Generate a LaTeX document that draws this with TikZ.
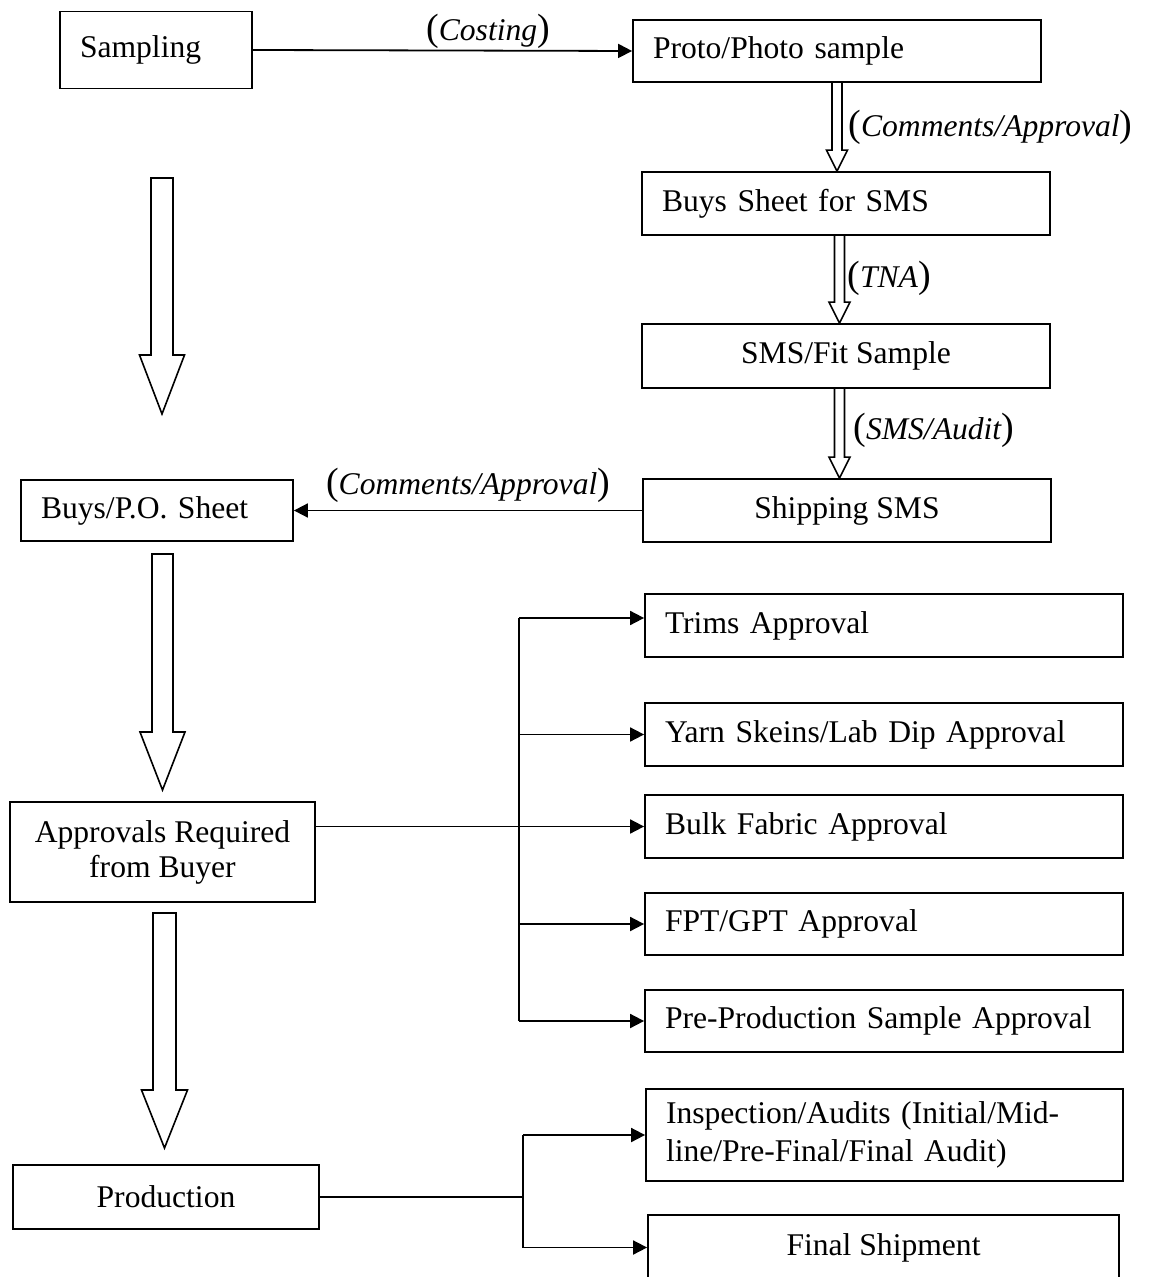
\documentclass[tikz,border=0pt]{standalone}
\usepackage{fontspec}
\setmainfont{Liberation Serif}
\usetikzlibrary{arrows.meta,calc}

% italic label in slightly enlarged upright parentheses
\newcommand\parlabel[1]{{\fontsize{19}{19}\selectfont(}\textit{#1}{\fontsize{19}{19}\selectfont)}}

% hollow block arrow linking the bottom of one node to the top of the next
\newcommand\hollowlink[3]{%
  \draw[hollow] let \p1=(#3,0), \p2=(#1.south), \p3=(#2.north) in
    (\x1-2.5pt,\y2) -- (\x1-2.5pt,\y3+10.5pt) -- (\x1-5.25pt,\y3+10.5pt) -- (\x1,\y3)
    -- (\x1+5.25pt,\y3+10.5pt) -- (\x1+2.5pt,\y3+10.5pt) -- (\x1+2.5pt,\y2);}

% large free-standing hollow arrow: centre x, top y, tip y, half shaft, half head, head length
\newcommand\bigdown[6]{%
  \draw[hollow] (#1-#4,#2) -- (#1-#4,#3-#6) -- (#1-#5,#3-#6) -- (#1,#3)
    -- (#1+#5,#3-#6) -- (#1+#4,#3-#6) -- (#1+#4,#2) -- cycle;}

\tikzset{
  box/.style={draw, rectangle, inner sep=0pt, line width=0.9pt},
  lbox/.style={box, align=left},
  cbox/.style={box, align=center},
  link/.style={line width=0.9pt, -{Triangle[length=7pt,width=7pt]}},
  rail/.style={line width=0.9pt},
  hollow/.style={line width=0.8pt, line join=miter},
  lbl/.style={inner sep=0pt}
}

\begin{document}
\begin{tikzpicture}[x=0.5pt,y=-0.5pt,font=\fontsize{15.8}{18}\selectfont]
\useasboundingbox (0,0) rectangle (1155,1277);
\clip (0,0) rectangle (1155,1277);

% left column
\node[lbox, minimum width=96pt, minimum height=38.5pt, text width=76pt] (samp) at (156,50) {Sampling};
\node[lbox, minimum width=136pt, minimum height=30.5pt, text width=116pt] (bpo) at (157,510.5) {Buys/P.O. Sheet};
\node[cbox, minimum width=152.5pt, minimum height=50pt, font=\fontsize{15.8}{17.5}\selectfont] (appr) at (162.5,852) {Approvals Required\\from Buyer};
\node[cbox, minimum width=153pt, minimum height=32pt] (prod) at (166,1197) {Production};

% sample development column
\node[lbox, minimum width=204pt, minimum height=31pt, text width=184pt] (proto) at (837,51) {Proto/Photo sample};
\node[lbox, minimum width=204pt, minimum height=31.5pt, text width=184pt] (buyss) at (846,203.5) {Buys Sheet for SMS};
\node[cbox, minimum width=204pt, minimum height=32pt] (fit) at (846,356) {SMS/Fit Sample};
\node[cbox, minimum width=204pt, minimum height=31.5pt] (ship) at (847,510.5) {Shipping SMS};

% buyer approvals
\node[lbox, minimum width=239pt, minimum height=31.5pt, text width=219pt] (trims) at (884,625.5) {Trims Approval};
\node[lbox, minimum width=239pt, minimum height=31.5pt, text width=219pt] (yarn) at (884,734.5) {Yarn Skeins/Lab Dip Approval};
\node[lbox, minimum width=239pt, minimum height=31.5pt, text width=219pt] (bulk) at (884,826.5) {Bulk Fabric Approval};
\node[lbox, minimum width=239pt, minimum height=31pt, text width=219pt] (fpt) at (884,924) {FPT/GPT Approval};
\node[lbox, minimum width=239pt, minimum height=31pt, text width=219pt] (pre) at (884,1021) {Pre-Production Sample Approval};

% production follow-up
\node[lbox, minimum width=238.5pt, minimum height=46pt, text width=218.5pt, font=\fontsize{15.8}{19}\selectfont] (insp) at (884.5,1135) {Inspection/Audits (Initial/Mid-\\line/Pre-Final/Final Audit)};
\node[cbox, minimum width=235.5pt, minimum height=32.5pt] (fin) at (883.5,1247.5) {Final Shipment};

% sampling to proto sample
\draw[link] (samp.east) -- (proto.west);
\node[lbl] (costing) at (488,31) {\parlabel{Costing}};

% development chain
\hollowlink{proto}{buyss}{837}
\node[lbl, anchor=west] (cmt1) at (848,127) {\parlabel{Comments/Approval}};
\hollowlink{buyss}{fit}{839.5}
\node[lbl, anchor=west] (tna) at (847,278) {\parlabel{TNA}};
\hollowlink{fit}{ship}{839.5}
\node[lbl, anchor=west] (audit) at (853,430) {\parlabel{SMS/Audit}};

% shipping SMS back to the buys sheet
\draw[link] (ship.west) -- (bpo.east);
\node[lbl] (cmt2) at (468,485) {\parlabel{Comments/Approval}};

% main flow arrows
\bigdown{162}{178}{414}{11}{22.5}{59}
\bigdown{162.5}{554}{790}{10.5}{22.5}{58}
\bigdown{164.5}{913}{1148}{11.5}{23}{58}

% approvals rail
\coordinate (va) at (519,618);
\draw[rail] (va) -- (va |- pre.west);
\draw[link] (va) -- (va -| trims.west);
\draw[link] (va |- yarn.west) -- (yarn.west);
\draw[link] (appr.east |- bulk.west) -- (bulk.west);
\draw[link] (va |- fpt.west) -- (fpt.west);
\draw[link] (va |- pre.west) -- (pre.west);

% production rail
\coordinate (vb) at (523,1197);
\draw[rail] (prod.east) -- (vb);
\draw[rail] (vb |- insp.west) -- (vb |- fin.west);
\draw[link] (vb |- insp.west) -- (insp.west);
\draw[link] (vb |- fin.west) -- (fin.west);
\end{tikzpicture}
\end{document}
